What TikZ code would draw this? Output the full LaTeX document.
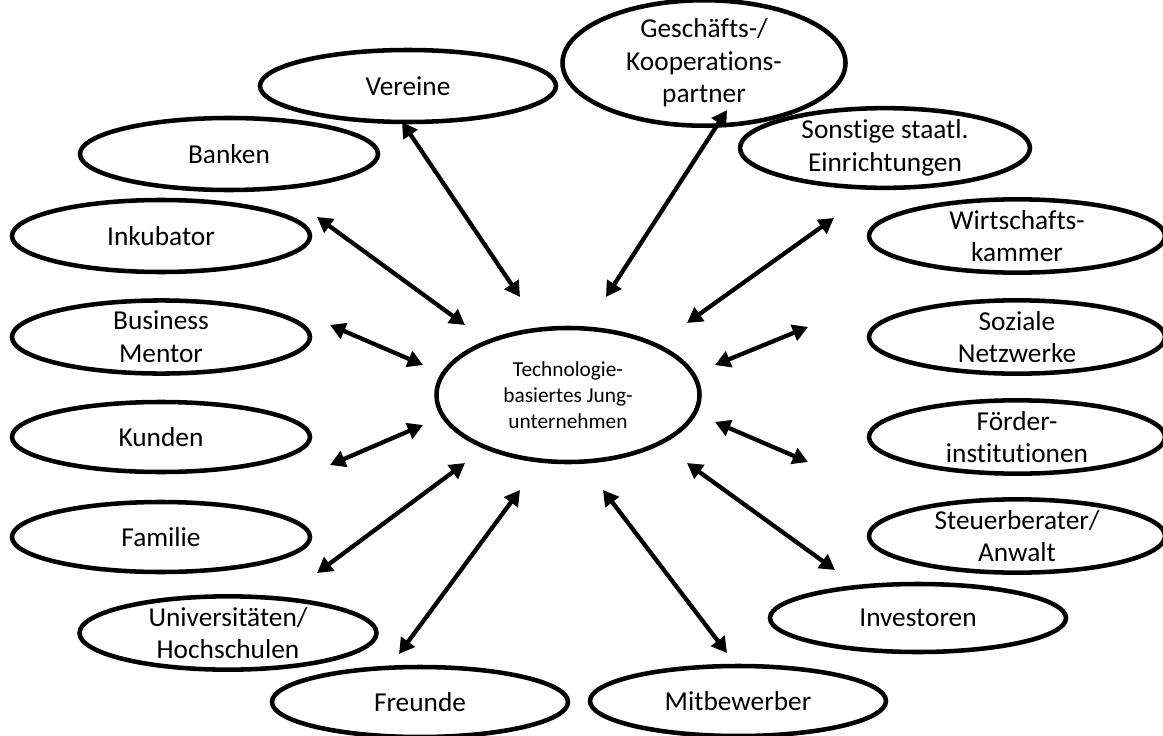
\documentclass[tikz,border=0pt]{standalone}
\usepackage{fontspec}
\setmainfont{Carlito}[Ligatures={NoCommon}]
\usetikzlibrary{shapes.geometric,arrows.meta}
\begin{document}
\begin{tikzpicture}[x=0.75pt,y=-0.75pt,
  oval/.style 2 args={ellipse, draw, line width=3.4pt, fill=white, inner sep=0pt,
    minimum width=#1*0.75pt, minimum height=#2*0.75pt, align=center,
    font=\fontsize{20.5}{24.5}\selectfont},
  link/.style={{Triangle[length=11.5pt,width=12.5pt]}-{Triangle[length=11.5pt,width=12.5pt]},
    line width=3.2pt}]
\useasboundingbox (0,0) rectangle (1163,735);

% central company
\node[oval={263}{134}, font=\fontsize{16}{19.5}\selectfont] (core) at (568,395)
  {Technologie-\\basiertes Jung-\\unternehmen};

% surrounding actors
\node[oval={296}{72}]  (vereine)  at (408,86)   {Vereine};
\node[oval={283}{118}] (partner)  at (704,63)   {Geschäfts-/\\Kooperations-\\partner};
\node[oval={290}{72}]  (staat)    at (885,148)  {Sonstige staatl.\\Einrichtungen};
\node[oval={296}{72}]  (kammer)   at (1017,236) {Wirtschafts-\\kammer};
\node[oval={296}{70}]  (sozial)   at (1017,337) {Soziale\\Netzwerke};
\node[oval={296}{68}]  (foerder)  at (1017,437) {Förder-\\institutionen};
\node[oval={296}{68}]  (steuer)   at (1017,536) {Steuerberater/\\Anwalt};
\node[oval={296}{68}]  (invest)   at (918,618)  {Investoren};
\node[oval={296}{70}]  (mitbew)   at (738,701)  {Mitbewerber};
\node[oval={296}{70}]  (freunde)  at (420,702)  {Freunde};
\node[oval={297}{70}]  (uni)      at (228,633)  {Universitäten/\\Hochschulen};
\node[oval={298}{70}]  (familie)  at (161,537)  {Familie};
\node[oval={298}{70}]  (kunden)   at (161,437)  {Kunden};
\node[oval={298}{70}]  (mentor)   at (161,337)  {Business\\Mentor};
\node[oval={298}{72}]  (inkub)    at (161,236)  {Inkubator};
\node[oval={298}{72}]  (banken)   at (229,154)  {Banken};

% arrow end points
\coordinate (a1o) at (402,122);  \coordinate (a1i) at (520,297);
\coordinate (a2o) at (727,110);  \coordinate (a2i) at (606,297);
\coordinate (a3o) at (317,217);  \coordinate (a3i) at (465,325);
\coordinate (a4o) at (330,325);  \coordinate (a4i) at (423,365);
\coordinate (a5o) at (330,465);  \coordinate (a5i) at (423,425);
\coordinate (a6o) at (317,573);  \coordinate (a6i) at (465,463);
\coordinate (a7o) at (399,654);  \coordinate (a7i) at (520,490);
\coordinate (a8o) at (727,653);  \coordinate (a8i) at (603,490);
\coordinate (a9o) at (835,570);  \coordinate (a9i) at (687,463);
\coordinate (a10o) at (808,462); \coordinate (a10i) at (715,422);
\coordinate (a11o) at (808,327); \coordinate (a11i) at (715,365);
\coordinate (a12o) at (834,218); \coordinate (a12i) at (687,323);

\foreach \k in {1,...,12}
  \draw[link] (a\k o) -- (a\k i);
\end{tikzpicture}
\end{document}
